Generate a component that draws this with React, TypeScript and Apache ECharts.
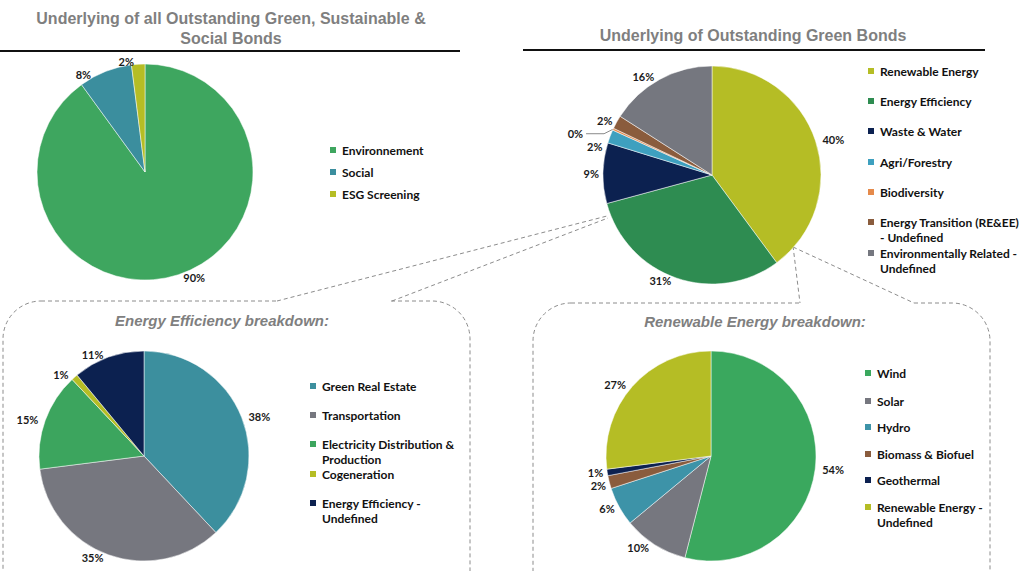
import React, { useEffect, useRef } from 'react';
import * as echarts from 'echarts';

// ---------- DATA ----------
const allNames = ['Environnement', 'Social', 'ESG Screening'];
const allValues = [90, 8, 2];

const greenNames = [
  'Renewable Energy',
  'Energy Efficiency',
  'Waste & Water',
  'Agri/Forestry',
  'Biodiversity',
  'Energy Transition (RE&EE)\n- Undefined',
  'Environmentally Related -\nUndefined',
];
const greenValues = [40, 31, 9, 2, 0.3, 2, 16];

const eeNames = [
  'Green Real Estate',
  'Transportation',
  'Electricity Distribution &\nProduction',
  'Cogeneration',
  'Energy Efficiency -\nUndefined',
];
const eeValues = [38, 35, 15, 1, 11];

const reNames = ['Wind', 'Solar', 'Hydro', 'Biomass & Biofuel', 'Geothermal', 'Renewable Energy -\nUndefined'];
const reValues = [54, 10, 6, 2, 1, 27];

// ---------- STYLES ----------
const allColors = ['#3ea65f', '#3b8e9e', '#b5bd25'];
const greenColors = ['#b5bd25', '#2e8c51', '#0c2150', '#3ea0bf', '#e58a4b', '#8a5c3d', '#75777f'];
const eeColors = ['#3c8f9e', '#76777f', '#3ca55e', '#b5bd25', '#0c2150'];
const reColors = ['#3aa85e', '#76777f', '#3d93a8', '#8a5c3d', '#0c2150', '#b5bd25'];

const LEG_FONT = 'Lato';
const LH = 15;

function pieSeries(names: string[], values: number[], colors: string[], center: number[], radius: number) {
  return {
    type: 'pie',
    center,
    radius,
    startAngle: 90,
    clockwise: true,
    avoidLabelOverlap: true,
    emphasis: { disabled: true },
    label: {
      show: true,
      position: 'outside',
      formatter: (p: any) => Math.round(p.value) + '%',
      fontFamily: LEG_FONT,
      fontWeight: 'bold',
      fontSize: 11,
      color: '#1a1a1a',
      distanceToLabelLine: 3,
    },
    labelLine: { show: false, length: 3, length2: 1 },
    itemStyle: { borderColor: '#ffffff', borderWidth: 0.5 },
    data: names.map((n, i) => ({
      name: n,
      value: values[i],
      itemStyle: { color: colors[i] },
      labelLine: values[i] < 1 ? { show: true, length: 10, length2: 18, lineStyle: { color: '#8a8a8a', width: 1 } } : undefined,
    })),
  };
}

function legendsFor(names: string[], left: number, centers: number[]) {
  return names.map((n, i) => {
    const two = n.indexOf('\n') >= 0;
    return {
      left,
      top: centers[i] - (two ? 1.5 * LH : 0.5 * LH),
      orient: 'vertical',
      padding: 0,
      selectedMode: false,
      icon: 'rect',
      itemWidth: 8,
      itemHeight: 8,
      data: [n],
      formatter: (name: string) => (two ? '\n' + name : name),
      textStyle: {
        fontFamily: LEG_FONT,
        fontWeight: 'bold',
        fontSize: 12,
        color: '#111',
        lineHeight: LH,
      },
    };
  });
}

const dash = { stroke: '#8c8c8c', lineWidth: 1, lineDash: [4, 3], fill: null as any };

export default function App() {
  const ref = useRef<HTMLDivElement>(null);
  useEffect(() => {
    if (!ref.current) return;
    const chart = echarts.init(ref.current, undefined, { renderer: 'svg' });
    const titleFont = 'bold 16px "Liberation Sans", Arial, sans-serif';
    const subFont = 'italic bold 15px "Liberation Sans", Arial, sans-serif';
    chart.setOption({
      animation: false,
      backgroundColor: '#ffffff',
      legend: [
        ...legendsFor(allNames, 328, [150, 172, 194]),
        ...legendsFor(greenNames, 866, [71, 101, 131, 162, 192, 222, 253]),
        ...legendsFor(eeNames, 308, [386, 415, 444, 474, 503]),
        ...legendsFor(reNames, 863, [373, 401, 427, 454, 480, 507]),
      ],
      graphic: [
        { type: 'text', x: 231, y: 28, style: { text: 'Underlying of all Outstanding Green, Sustainable &\nSocial Bonds', align: 'center', verticalAlign: 'middle', font: titleFont, lineHeight: 20, fill: '#7f7f7f' } },
        { type: 'line', shape: { x1: 0, y1: 51, x2: 460, y2: 51 }, style: { stroke: '#111', lineWidth: 2 } },
        { type: 'text', x: 753, y: 35, style: { text: 'Underlying of Outstanding Green Bonds', align: 'center', verticalAlign: 'middle', font: titleFont, fill: '#7f7f7f' } },
        { type: 'line', shape: { x1: 523, y1: 50, x2: 985, y2: 50 }, style: { stroke: '#111', lineWidth: 2 } },
        // boxes
        { type: 'rect', shape: { x: 3, y: 301, width: 467, height: 330, r: 38 }, style: dash },
        { type: 'rect', shape: { x: 279, y: 295, width: 112, height: 12 }, style: { fill: '#ffffff' } },
        { type: 'line', shape: { x1: 277, y1: 301, x2: 607, y2: 216 }, style: dash },
        { type: 'line', shape: { x1: 392, y1: 301, x2: 608, y2: 218 }, style: dash },
        { type: 'rect', shape: { x: 533, y: 303, width: 457, height: 330, r: 38 }, style: dash },
        { type: 'rect', shape: { x: 801, y: 297, width: 112, height: 12 }, style: { fill: '#ffffff' } },
        { type: 'line', shape: { x1: 793, y1: 246, x2: 800, y2: 303 }, style: dash },
        { type: 'line', shape: { x1: 793, y1: 247, x2: 914, y2: 303 }, style: dash },
        { type: 'text', x: 222, y: 320, style: { text: 'Energy Efficiency breakdown:', align: 'center', verticalAlign: 'middle', font: subFont, fill: '#7f7f7f' } },
        { type: 'text', x: 755, y: 321, style: { text: 'Renewable Energy breakdown:', align: 'center', verticalAlign: 'middle', font: subFont, fill: '#7f7f7f' } },
      ],
      series: [
        pieSeries(allNames, allValues, allColors, [145, 172], 108),
        pieSeries(greenNames, greenValues, greenColors, [712, 175], 109),
        pieSeries(eeNames, eeValues, eeColors, [144, 456], 105),
        pieSeries(reNames, reValues, reColors, [711, 456], 105),
      ],
    });
    return () => chart.dispose();
  }, []);
  return <div ref={ref} style={{ position: 'fixed', left: 0, top: 0, width: 1023, height: 571 }} />;
}
